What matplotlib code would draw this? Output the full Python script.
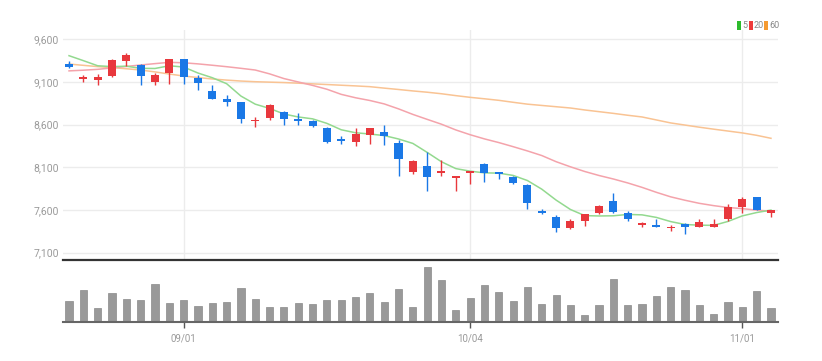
import matplotlib
matplotlib.use("Agg")
import matplotlib.pyplot as plt
from matplotlib.patches import Rectangle
import numpy as np

# --- data (2022 trading days) ---
dates = [
    "08/22", "08/23", "08/24", "08/25", "08/26", "08/29", "08/30", "08/31",
    "09/01", "09/02", "09/05", "09/06", "09/07", "09/08", "09/13", "09/14",
    "09/15", "09/16", "09/19", "09/20", "09/21", "09/22", "09/23", "09/26",
    "09/27", "09/28", "09/29", "09/30",
    "10/04", "10/05", "10/06", "10/07", "10/11", "10/12", "10/13", "10/14",
    "10/17", "10/18", "10/19", "10/20", "10/21", "10/24", "10/25", "10/26",
    "10/27", "10/28", "10/31",
    "11/01", "11/02", "11/03",
]
opens = [9310, 9140, 9120, 9170, 9340, 9300, 9100, 9200, 9370, 9150,
         9000, 8900, 8870, 8640, 8680, 8750, 8670, 8640, 8560, 8430,
         8400, 8480, 8510, 8380, 8040, 8120, 8030, 7975, 8030, 8135,
         8040, 7990, 7890, 7590, 7520, 7385, 7470, 7560, 7700, 7570,
         7425, 7425, 7385, 7435, 7400, 7405, 7500, 7640, 7750, 7560]
closes = [9280, 9160, 9160, 9360, 9420, 9170, 9180, 9370, 9160, 9090,
          8900, 8870, 8670, 8660, 8830, 8670, 8645, 8580, 8400, 8410,
          8490, 8560, 8470, 8200, 8170, 7990, 8060, 8000, 8055, 8030,
          8020, 7920, 7680, 7570, 7390, 7470, 7550, 7650, 7575, 7495,
          7445, 7400, 7405, 7405, 7455, 7435, 7630, 7730, 7600, 7600]
highs = [9350, 9180, 9190, 9370, 9440, 9310, 9200, 9370, 9370, 9180,
         9060, 8950, 8870, 8690, 8840, 8760, 8740, 8650, 8570, 8470,
         8560, 8560, 8600, 8420, 8180, 8280, 8190, 8000, 8060, 8150,
         8045, 8000, 7910, 7610, 7540, 7490, 7550, 7660, 7800, 7590,
         7460, 7500, 7420, 7450, 7490, 7490, 7670, 7750, 7750, 7600]
lows = [9260, 9100, 9070, 9160, 9290, 9070, 9070, 9080, 9080, 9010,
        8900, 8820, 8620, 8570, 8660, 8600, 8600, 8570, 8390, 8370,
        8350, 8370, 8360, 8000, 8020, 7820, 8000, 7820, 7910, 7930,
        7960, 7910, 7610, 7550, 7340, 7380, 7410, 7550, 7570, 7470,
        7405, 7400, 7350, 7315, 7395, 7395, 7470, 7570, 7600, 7520]
ma5 = [9408, 9350, 9290, 9280, 9285, 9260, 9258, 9290, 9275, 9205,
       9150, 9080, 8935, 8840, 8790, 8725, 8690, 8668, 8615, 8540,
       8505, 8490, 8472, 8432, 8380, 8275, 8165, 8085, 8055, 8035,
       8032, 8005, 7945, 7844, 7716, 7606, 7534, 7530, 7532, 7548,
       7543, 7513, 7464, 7430, 7422, 7420, 7466, 7531, 7570, 7599]
ma20 = [9230, 9238, 9248, 9265, 9282, 9299, 9315, 9330, 9325, 9312,
        9296, 9279, 9260, 9240, 9195, 9140, 9100, 9060, 9015, 8955,
        8915, 8883, 8843, 8785, 8720, 8662, 8605, 8538, 8482, 8433,
        8390, 8342, 8292, 8238, 8166, 8106, 8051, 8004, 7963, 7917,
        7865, 7807, 7754, 7714, 7678, 7651, 7629, 7616, 7598, 7585]
ma60 = [9310, 9295, 9280, 9268, 9255, 9240, 9218, 9193, 9170, 9152,
        9135, 9122, 9111, 9103, 9098, 9093, 9086, 9078, 9070, 9062,
        9054, 9045, 9028, 9012, 8995, 8980, 8962, 8940, 8920, 8903,
        8885, 8862, 8840, 8825, 8810, 8795, 8772, 8752, 8732, 8710,
        8690, 8655, 8620, 8595, 8570, 8547, 8525, 8503, 8475, 8440]
volume = [210, 317, 137, 293, 233, 217, 383, 193, 220, 163,
          187, 197, 337, 230, 147, 153, 187, 180, 220, 220,
          247, 293, 203, 330, 147, 547, 417, 120, 237, 367,
          297, 213, 350, 180, 267, 167, 70, 167, 433, 167,
          180, 263, 350, 317, 167, 80, 200, 147, 310, 140]
price_ticks = [7100, 7600, 8100, 8600, 9100, 9600]

UP = "#e8383d"
DOWN = "#1a78e6"
GRID = "#ececec"
LABEL = "#9a9a9a"
FONT = ["Liberation Sans Narrow", "Roboto", "DejaVu Sans"]

x = np.arange(len(dates))
o = np.array(opens)
c = np.array(closes)
colors = [UP if cc >= oo else DOWN for oo, cc in zip(o, c)]

# month starts -> x ticks
tick_idx = [i for i in range(1, len(dates)) if dates[i][:2] != dates[i - 1][:2]]
tick_lab = [dates[i] for i in tick_idx]

fig = plt.figure(figsize=(8.22, 3.61), dpi=100)
ax = fig.add_axes([63 / 822, 101 / 361, 715 / 822, 230 / 361])
axv = fig.add_axes([63 / 822, 39 / 361, 715 / 822, 60 / 361])

# --- price panel ---
ax.plot(x, ma60, color="#f9c393", lw=1.1, zorder=2)
ax.plot(x, ma20, color="#f4a3ab", lw=1.1, zorder=2)
ax.plot(x, ma5, color="#93d98f", lw=1.1, zorder=2)

ax.vlines(x, lows, highs, colors=colors, lw=1, zorder=3)
body_h = np.maximum(np.abs(c - o), 18)
body_b = np.minimum(o, c)
ax.bar(x, body_h, bottom=body_b, width=0.56, color=colors, lw=0, zorder=4)

ax.set_xlim(-0.42, 49.49)
ax.set_ylim(7014, 9709)
ax.set_yticks(price_ticks)
ax.set_yticklabels([f"{v:,}" for v in price_ticks])
ax.set_xticks(tick_idx)
ax.tick_params(axis="x", length=0, labelbottom=False)
ax.tick_params(axis="y", length=0, pad=3, labelsize=7.5, labelcolor=LABEL)
for t in ax.get_yticklabels():
    t.set_family(FONT)
ax.grid(True, color=GRID, lw=1)
ax.set_axisbelow(True)
for s in ["top", "right", "left"]:
    ax.spines[s].set_visible(False)
ax.spines["bottom"].set_color("#333333")
ax.spines["bottom"].set_linewidth(1.6)

# --- volume panel ---
axv.bar(x, volume, width=0.5, color="#999999", edgecolor="#8a8a8a", lw=0.5, zorder=2)
axv.set_xlim(-0.42, 49.49)
axv.set_ylim(0, 600)
axv.set_yticks([])
axv.set_xticks(tick_idx)
axv.set_xticklabels(tick_lab)
axv.tick_params(axis="x", length=4, width=1, color="#555555", pad=4,
                labelsize=7, labelcolor=LABEL)
for t in axv.get_xticklabels():
    t.set_family(FONT)
for s in ["top", "right", "left"]:
    axv.spines[s].set_visible(False)
axv.spines["bottom"].set_color("#666666")
axv.spines["bottom"].set_linewidth(1.5)

# --- legend (top right) ---
items = [("5", "#2dbb2d", 737), ("20", "#ee3a3a", 749), ("60", "#f59a30", 764)]
for lab, col, px in items:
    fig.add_artist(Rectangle((px / 822, 1 - 29.5 / 361), 3.5 / 822, 8.5 / 361,
                             transform=fig.transFigure, color=col, lw=0))
    fig.text((px + 5) / 822, 1 - 25.5 / 361, lab, fontsize=6.5, color="#888888",
             va="center", ha="left", family=FONT)

fig.savefig("out.png", dpi=100, facecolor="white")
